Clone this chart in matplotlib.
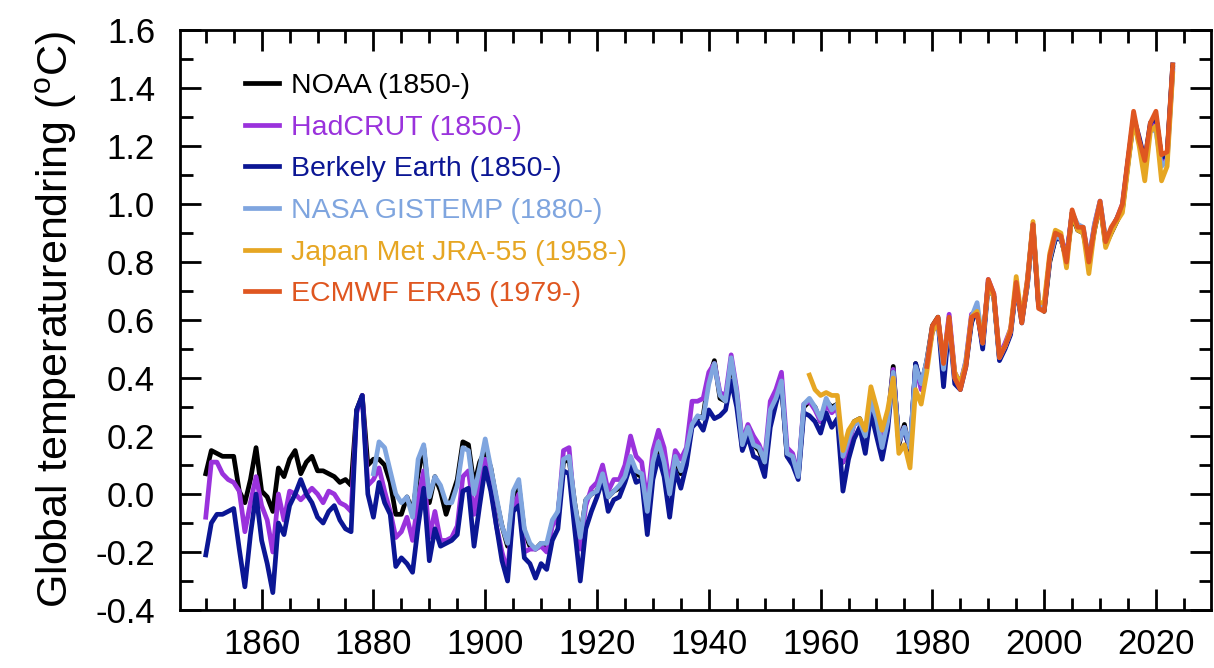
import numpy as np
import matplotlib
matplotlib.use("Agg")
import matplotlib.pyplot as plt
from matplotlib.ticker import MultipleLocator

plt.rcParams['font.family'] = ['Liberation Sans', 'DejaVu Sans']
plt.rcParams['mathtext.fontset'] = 'custom'
plt.rcParams['mathtext.rm'] = 'Liberation Sans'

# Temperaturavvik (grader C), lest av figuren
noaa = [
    0.07, 0.15, 0.14, 0.13, 0.13, 0.13, 0.01, -0.03, 0.05, 0.16,
    0.01, -0.01, -0.06, 0.09, 0.06, 0.12, 0.15, 0.07, 0.11, 0.13,
    0.08, 0.08, 0.07, 0.06, 0.04, 0.05, 0.03, 0.29, 0.34, 0.10,
    0.12, 0.12, 0.10, 0.04, -0.07, -0.07, -0.01, -0.06, 0.07, 0.16,
    -0.03, 0.06, 0.01, -0.07, -0.01, 0.05, 0.18, 0.17, 0.03, 0.11,
    0.15, 0.09, -0.02, -0.11, -0.18, -0.01, 0.03, -0.13, -0.18, -0.19,
    -0.17, -0.19, -0.10, -0.07, 0.11, 0.12, -0.03, -0.15, -0.02, 0.00,
    0.01, 0.06, -0.01, 0.01, 0.02, 0.06, 0.12, 0.07, 0.06, -0.06,
    0.10, 0.16, 0.10, 0.00, 0.12, 0.07, 0.14, 0.24, 0.26, 0.27,
    0.40, 0.46, 0.33, 0.32, 0.46, 0.34, 0.16, 0.22, 0.17, 0.15,
    0.10, 0.28, 0.32, 0.38, 0.13, 0.12, 0.06, 0.30, 0.32, 0.30,
    0.25, 0.32, 0.30, 0.31, 0.11, 0.18, 0.25, 0.26, 0.20, 0.33,
    0.27, 0.17, 0.25, 0.44, 0.17, 0.24, 0.14, 0.45, 0.37, 0.46,
    0.58, 0.61, 0.42, 0.60, 0.41, 0.38, 0.45, 0.60, 0.63, 0.52,
    0.73, 0.68, 0.47, 0.51, 0.56, 0.72, 0.60, 0.72, 0.92, 0.65,
    0.63, 0.80, 0.88, 0.88, 0.81, 0.96, 0.91, 0.90, 0.80, 0.91,
    1.00, 0.86, 0.90, 0.94, 0.98, 1.14, 1.29, 1.22, 1.14, 1.27,
    1.30, 1.16, 1.17, 1.47]

hadcrut = [
    -0.08, 0.11, 0.11, 0.07, 0.05, 0.04, 0.01, -0.13, -0.03, 0.06,
    -0.04, -0.09, -0.20, 0.00, -0.09, 0.01, 0.00, -0.02, 0.00, 0.02,
    0.00, -0.03, 0.01, 0.00, -0.03, -0.04, -0.06, 0.28, 0.34, 0.03,
    0.05, 0.09, 0.01, -0.06, -0.15, -0.13, -0.08, -0.16, -0.02, 0.08,
    -0.15, -0.06, -0.16, -0.16, -0.15, -0.11, 0.06, 0.08, -0.07, 0.04,
    0.12, 0.03, -0.11, -0.20, -0.27, -0.05, 0.00, -0.20, -0.19, -0.19,
    -0.18, -0.20, -0.11, -0.08, 0.15, 0.16, -0.06, -0.19, -0.04, 0.02,
    0.04, 0.10, 0.01, 0.05, 0.05, 0.10, 0.20, 0.13, 0.11, -0.03,
    0.15, 0.22, 0.16, 0.03, 0.15, 0.12, 0.16, 0.32, 0.32, 0.33,
    0.42, 0.45, 0.35, 0.34, 0.48, 0.36, 0.18, 0.24, 0.20, 0.17,
    0.12, 0.32, 0.36, 0.42, 0.16, 0.14, 0.07, 0.31, 0.32, 0.29,
    0.25, 0.31, 0.28, 0.30, 0.11, 0.17, 0.24, 0.25, 0.20, 0.34,
    0.28, 0.18, 0.25, 0.43, 0.18, 0.23, 0.14, 0.44, 0.36, 0.45,
    0.57, 0.60, 0.46, 0.62, 0.42, 0.38, 0.46, 0.62, 0.63, 0.51,
    0.74, 0.69, 0.48, 0.52, 0.57, 0.72, 0.60, 0.74, 0.93, 0.66,
    0.65, 0.81, 0.89, 0.89, 0.82, 0.97, 0.92, 0.91, 0.81, 0.93,
    1.01, 0.87, 0.91, 0.95, 1.00, 1.15, 1.29, 1.22, 1.15, 1.27,
    1.28, 1.15, 1.16, 1.46]

berkeley = [
    -0.21, -0.10, -0.07, -0.07, -0.06, -0.05, -0.19, -0.32, -0.14, 0.00,
    -0.16, -0.24, -0.34, -0.10, -0.14, -0.04, 0.00, 0.05, 0.00, -0.03,
    -0.08, -0.10, -0.06, -0.04, -0.09, -0.12, -0.13, 0.29, 0.34, 0.00,
    -0.08, 0.04, -0.03, -0.07, -0.25, -0.22, -0.24, -0.27, -0.11, 0.02,
    -0.23, -0.12, -0.18, -0.17, -0.16, -0.14, 0.01, 0.02, -0.18, -0.04,
    0.09, 0.01, -0.11, -0.23, -0.30, -0.06, -0.04, -0.22, -0.24, -0.29,
    -0.24, -0.26, -0.16, -0.12, 0.08, 0.07, -0.12, -0.30, -0.12, -0.06,
    -0.01, 0.05, -0.06, -0.02, -0.01, 0.04, 0.10, 0.04, 0.05, -0.14,
    0.05, 0.13, 0.06, -0.08, 0.08, 0.02, 0.10, 0.23, 0.25, 0.22,
    0.29, 0.26, 0.27, 0.29, 0.39, 0.30, 0.15, 0.20, 0.13, 0.12,
    0.06, 0.23, 0.31, 0.38, 0.13, 0.10, 0.05, 0.28, 0.27, 0.25,
    0.21, 0.28, 0.23, 0.26, 0.01, 0.12, 0.19, 0.23, 0.14, 0.28,
    0.20, 0.12, 0.22, 0.42, 0.19, 0.22, 0.15, 0.45, 0.38, 0.45,
    0.56, 0.60, 0.37, 0.59, 0.38, 0.36, 0.44, 0.59, 0.64, 0.50,
    0.72, 0.68, 0.46, 0.50, 0.55, 0.72, 0.59, 0.73, 0.93, 0.65,
    0.64, 0.81, 0.88, 0.88, 0.81, 0.97, 0.92, 0.91, 0.80, 0.92,
    1.00, 0.87, 0.91, 0.95, 0.99, 1.15, 1.30, 1.23, 1.15, 1.28,
    1.30, 1.16, 1.17, 1.48]

gistemp = [
    0.07, 0.18, 0.16, 0.08, 0.00, -0.03, -0.01, -0.08, 0.12, 0.17,
    -0.01, 0.06, 0.03, -0.03, -0.03, 0.03, 0.16, 0.15, 0.00, 0.09,
    0.19, 0.09, -0.01, -0.11, -0.17, 0.01, 0.05, -0.12, -0.17, -0.19,
    -0.17, -0.17, -0.09, -0.06, 0.12, 0.13, -0.03, -0.15, -0.02, 0.00,
    0.01, 0.07, -0.01, 0.01, 0.03, 0.06, 0.13, 0.08, 0.07, -0.06,
    0.11, 0.18, 0.11, 0.00, 0.13, 0.08, 0.15, 0.24, 0.27, 0.26,
    0.38, 0.45, 0.34, 0.32, 0.47, 0.35, 0.17, 0.23, 0.17, 0.16,
    0.11, 0.29, 0.33, 0.39, 0.14, 0.13, 0.06, 0.31, 0.33, 0.30,
    0.26, 0.33, 0.29, 0.31, 0.13, 0.19, 0.24, 0.25, 0.20, 0.32,
    0.26, 0.16, 0.25, 0.42, 0.18, 0.23, 0.16, 0.44, 0.38, 0.46,
    0.57, 0.60, 0.43, 0.60, 0.40, 0.37, 0.46, 0.61, 0.66, 0.52,
    0.73, 0.68, 0.47, 0.51, 0.56, 0.72, 0.60, 0.72, 0.92, 0.66,
    0.64, 0.81, 0.89, 0.88, 0.81, 0.97, 0.93, 0.92, 0.80, 0.93,
    1.01, 0.88, 0.91, 0.95, 0.99, 1.14, 1.29, 1.21, 1.13, 1.26,
    1.25, 1.13, 1.15, 1.46]

jra55 = [
    0.41, 0.36,
    0.34, 0.35, 0.34, 0.34, 0.15, 0.22, 0.25, 0.26, 0.22, 0.37,
    0.30, 0.22, 0.29, 0.40, 0.14, 0.17, 0.09, 0.36, 0.31, 0.42,
    0.56, 0.59, 0.47, 0.60, 0.42, 0.38, 0.45, 0.61, 0.63, 0.53,
    0.72, 0.68, 0.48, 0.51, 0.57, 0.75, 0.60, 0.74, 0.94, 0.66,
    0.66, 0.83, 0.91, 0.90, 0.78, 0.97, 0.91, 0.90, 0.76, 0.91,
    1.00, 0.85, 0.90, 0.94, 0.97, 1.13, 1.29, 1.20, 1.08, 1.25,
    1.27, 1.08, 1.13, 1.45]

era5 = [
    0.44,
    0.58, 0.61, 0.45, 0.61, 0.40, 0.36, 0.44, 0.61, 0.62, 0.52,
    0.74, 0.69, 0.47, 0.51, 0.56, 0.73, 0.59, 0.73, 0.93, 0.64,
    0.63, 0.82, 0.90, 0.89, 0.80, 0.98, 0.92, 0.92, 0.80, 0.92,
    1.01, 0.87, 0.92, 0.95, 1.00, 1.16, 1.32, 1.22, 1.15, 1.28,
    1.32, 1.17, 1.18, 1.48]

series = [
    ('NOAA (1850-)', 1850, noaa, '#000000'),
    ('HadCRUT (1850-)', 1850, hadcrut, '#9A32DC'),
    ('Berkely Earth (1850-)', 1850, berkeley, '#0B1694'),
    ('NASA GISTEMP (1880-)', 1880, gistemp, '#7FA5DF'),
    ('Japan Met JRA-55 (1958-)', 1958, jra55, '#E6A623'),
    ('ECMWF ERA5 (1979-)', 1979, era5, '#DF5620'),
]

fig = plt.figure(figsize=(12.14, 6.68), dpi=100)
ax = fig.add_axes([0.1483, 0.0868, 0.849, 0.8682])

for name, start, vals, col in series:
    yrs = np.arange(start, start + len(vals))
    ax.plot(yrs, vals, color=col, lw=3.4, label=name)

ax.set_xlim(1845.4, 2029.8)
ax.set_ylim(-0.4, 1.6)
ax.xaxis.set_minor_locator(MultipleLocator(5))
ax.yaxis.set_minor_locator(MultipleLocator(0.1))
ax.set_xticks(np.arange(1860, 2021, 20))
ax.set_yticks(np.arange(-0.4, 1.61, 0.2))
ax.set_yticklabels(['%.1f' % v for v in np.arange(-0.4, 1.61, 0.2)])

ax.tick_params(which='both', direction='in', top=True, right=True, width=2, labelsize=25)
ax.tick_params(which='major', length=15)
ax.tick_params(which='minor', length=9)
ax.tick_params(axis='y', which='major', pad=18)
ax.tick_params(axis='x', which='major', pad=13)
for s in ax.spines.values():
    s.set_linewidth(2)

ax.set_ylabel(r'Global temperaturendring ($^{\mathrm{o}}$C)', fontsize=31, labelpad=12)

leg = ax.legend(loc='upper left', bbox_to_anchor=(0.063, 0.926), frameon=False,
                fontsize=20.5, handlelength=1.2, handletextpad=0.4,
                labelspacing=0.55, borderpad=0, borderaxespad=0)
for txt, (_, _, _, col) in zip(leg.get_texts(), series):
    txt.set_color(col)

fig.savefig('out.png', dpi=100)
